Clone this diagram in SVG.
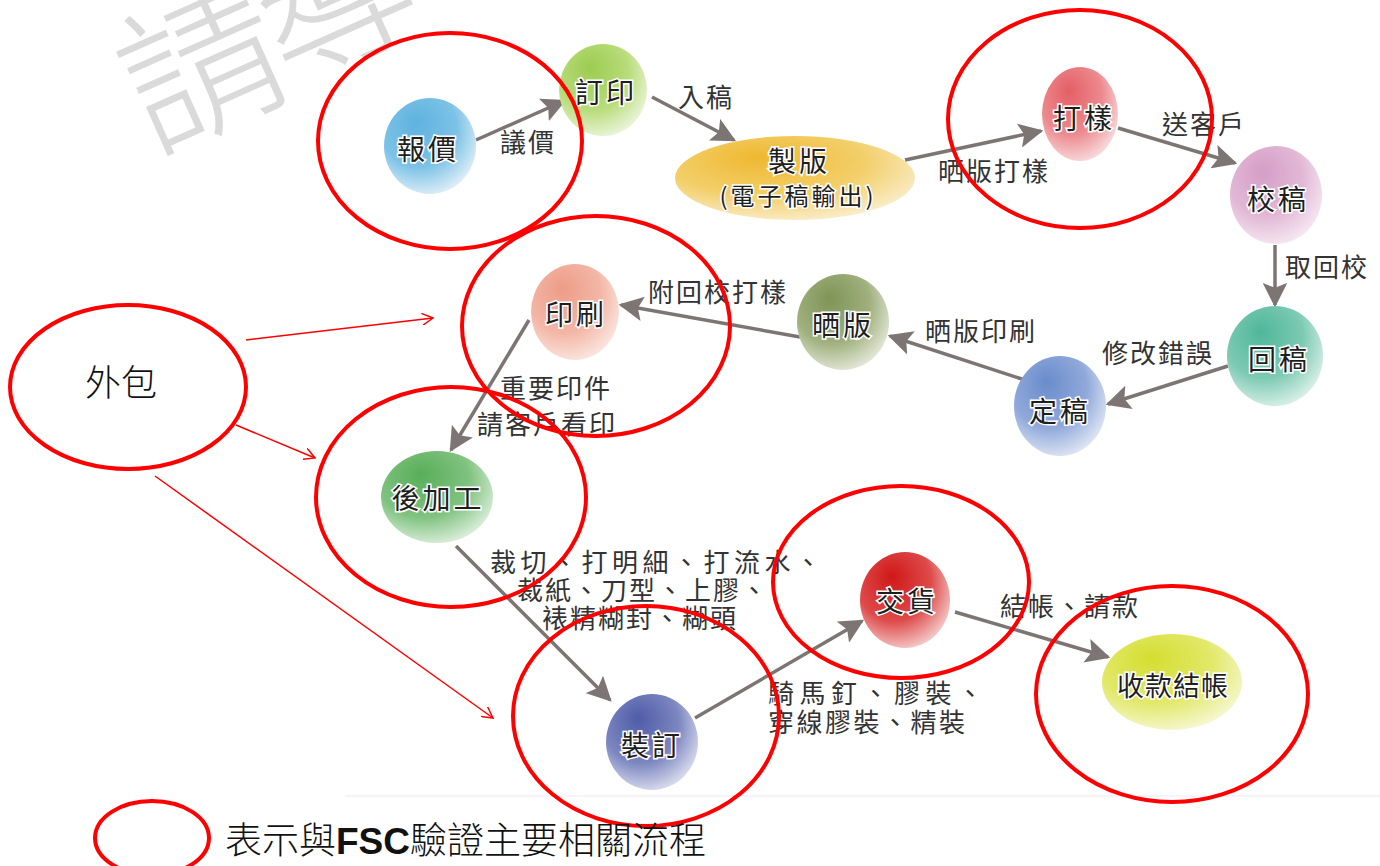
<svg xmlns="http://www.w3.org/2000/svg" width="1380" height="866" viewBox="0 0 1380 866">
<defs>
<style>
.nl{font-family:"Noto Sans CJK TC","Noto Sans CJK SC",sans-serif;font-size:28px;font-weight:400;letter-spacing:3px;fill:#1e1e1e;stroke:#fff;stroke-width:3px;paint-order:stroke;text-anchor:middle;dominant-baseline:central}
.el{font-family:"Noto Sans CJK TC","Noto Sans CJK SC",sans-serif;font-size:26px;fill:#333;letter-spacing:2px}
.cn{stroke:#7d7573;stroke-width:3.5;fill:none;marker-end:url(#ah)}
.red{fill:none;stroke:#ff0000;stroke-width:4}
.rl{stroke:#ff0000;stroke-width:1.5;fill:none;marker-end:url(#ra)}
.wm{font-family:"Noto Sans CJK TC","Noto Sans CJK SC",sans-serif;font-size:160px;font-weight:300;fill:#dadada}
</style>
<marker id="ah" viewBox="0 0 10 10" refX="9" refY="5" markerWidth="7" markerHeight="7" markerUnits="strokeWidth" orient="auto"><path d="M0,0 L10,5 L0,10 L2,5 Z" fill="#7d7573"/></marker>
<marker id="ra" viewBox="0 0 12 12" refX="11" refY="6" markerWidth="12" markerHeight="12" markerUnits="userSpaceOnUse" orient="auto"><path d="M0,0 L11,6 L0,12" fill="none" stroke="#ff0000" stroke-width="1.5"/></marker>
<radialGradient id="gBlue" cx="0.4" cy="0.35" r="0.75" fx="0.35" fy="0.25"><stop offset="0" stop-color="#5fb2e0"/><stop offset="0.55" stop-color="#7cc2e6"/><stop offset="1" stop-color="#f4f8fb"/></radialGradient>
<radialGradient id="gLime" cx="0.4" cy="0.35" r="0.75" fx="0.35" fy="0.25"><stop offset="0" stop-color="#9ccc52"/><stop offset="0.55" stop-color="#b8dc7a"/><stop offset="1" stop-color="#f6faee"/></radialGradient>
<radialGradient id="gOrange" cx="0.4" cy="0.35" r="0.75" fx="0.35" fy="0.25"><stop offset="0" stop-color="#efb830"/><stop offset="0.55" stop-color="#f3cf6a"/><stop offset="1" stop-color="#fbf3de"/></radialGradient>
<radialGradient id="gPinkRed" cx="0.4" cy="0.35" r="0.75" fx="0.35" fy="0.25"><stop offset="0" stop-color="#e45f66"/><stop offset="0.55" stop-color="#ec8a8e"/><stop offset="1" stop-color="#fbecee"/></radialGradient>
<radialGradient id="gPink" cx="0.4" cy="0.35" r="0.75" fx="0.35" fy="0.25"><stop offset="0" stop-color="#d59ec6"/><stop offset="0.55" stop-color="#e2b8d6"/><stop offset="1" stop-color="#faf2f8"/></radialGradient>
<radialGradient id="gTeal" cx="0.4" cy="0.35" r="0.75" fx="0.35" fy="0.25"><stop offset="0" stop-color="#4fb79a"/><stop offset="0.55" stop-color="#7ccab2"/><stop offset="1" stop-color="#eef8f4"/></radialGradient>
<radialGradient id="gSteel" cx="0.4" cy="0.35" r="0.75" fx="0.35" fy="0.25"><stop offset="0" stop-color="#6a8ccc"/><stop offset="0.55" stop-color="#90a9da"/><stop offset="1" stop-color="#f0f3fa"/></radialGradient>
<radialGradient id="gOlive" cx="0.4" cy="0.35" r="0.75" fx="0.35" fy="0.25"><stop offset="0" stop-color="#7f9456"/><stop offset="0.55" stop-color="#a0b07e"/><stop offset="1" stop-color="#f2f4ec"/></radialGradient>
<radialGradient id="gSalmon" cx="0.4" cy="0.35" r="0.75" fx="0.35" fy="0.25"><stop offset="0" stop-color="#ee9c88"/><stop offset="0.55" stop-color="#f3b6a6"/><stop offset="1" stop-color="#fcf0ec"/></radialGradient>
<radialGradient id="gGreen" cx="0.4" cy="0.35" r="0.75" fx="0.35" fy="0.25"><stop offset="0" stop-color="#58ae58"/><stop offset="0.55" stop-color="#80c280"/><stop offset="1" stop-color="#eef7ee"/></radialGradient>
<radialGradient id="gNavy" cx="0.4" cy="0.35" r="0.75" fx="0.35" fy="0.25"><stop offset="0" stop-color="#4f5ca8"/><stop offset="0.55" stop-color="#7c86c0"/><stop offset="1" stop-color="#eeeff8"/></radialGradient>
<radialGradient id="gRed" cx="0.4" cy="0.35" r="0.75" fx="0.35" fy="0.25"><stop offset="0" stop-color="#d01818"/><stop offset="0.55" stop-color="#de4a4a"/><stop offset="1" stop-color="#fae6e6"/></radialGradient>
<radialGradient id="gYellow" cx="0.4" cy="0.35" r="0.75" fx="0.35" fy="0.25"><stop offset="0" stop-color="#d4de30"/><stop offset="0.55" stop-color="#e2e86a"/><stop offset="1" stop-color="#fafbe6"/></radialGradient>
</defs>
<rect width="1380" height="866" fill="#fff"/>

<g id="watermark">
<text class="wm" x="152" y="152" transform="rotate(-24 152 152)">請</text>
<text class="wm" x="285" y="84" transform="rotate(-24 285 84)">導</text>
</g>

<line x1="345" y1="796" x2="1380" y2="796" stroke="#f6eff6" stroke-width="1.5"/>

<g id="connectors">
<line class="cn" x1="476" y1="140" x2="564" y2="101"/>
<line class="cn" x1="652" y1="97" x2="734" y2="140"/>
<line class="cn" x1="905" y1="160" x2="1041" y2="131"/>
<line class="cn" x1="1118" y1="128" x2="1235" y2="163"/>
<line class="cn" x1="1275" y1="245" x2="1275" y2="305"/>
<line class="cn" x1="1228" y1="366" x2="1108" y2="404"/>
<line class="cn" x1="1025" y1="380" x2="890" y2="336"/>
<line class="cn" x1="800" y1="337" x2="621" y2="305"/>
<line class="cn" x1="529" y1="320" x2="451" y2="450"/>
<line class="cn" x1="456" y1="546" x2="610" y2="700"/>
<line class="cn" x1="695" y1="718" x2="862" y2="621"/>
<line class="cn" x1="955" y1="612" x2="1108" y2="657"/>
<line class="rl" x1="246" y1="340" x2="433" y2="318"/>
<line class="rl" x1="236" y1="425" x2="315" y2="458"/>
<line class="rl" x1="155" y1="476" x2="493" y2="718"/>
</g>

<g id="edge-labels">
<text class="el" x="500" y="152">議價</text>
<text class="el" x="678" y="107">入稿</text>
<text class="el" x="938" y="181">晒版打樣</text>
<text class="el" x="1162" y="134">送客戶</text>
<text class="el" x="1285" y="277">取回校</text>
<text class="el" x="648" y="302">附回校打樣</text>
<text class="el" x="925" y="341">晒版印刷</text>
<text class="el" x="1102" y="363">修改錯誤</text>
<text class="el" x="500" y="398">重要印件</text>
<text class="el" x="477" y="434">請客戶看印</text>
<text class="el" x="490" y="572" style="letter-spacing:4.5px">裁切、打明細、打流水、</text>
<text class="el" x="517" y="600">裁紙、刀型、上膠、</text>
<text class="el" x="542" y="628">裱精糊封、糊頭</text>
<text class="el" x="1000" y="616">結帳、請款</text>
<text class="el" x="768" y="703" style="letter-spacing:5.5px">騎馬釘、膠裝、</text>
<text class="el" x="768" y="732" style="letter-spacing:2.5px">穿線膠裝、精裝</text>
</g>

<g id="n-baojia"><ellipse cx="430" cy="146" rx="46" ry="48" fill="url(#gBlue)"/><text class="nl" x="428" y="148">報價</text></g>
<g id="n-dingyin"><ellipse cx="603" cy="90" rx="44" ry="46" fill="url(#gLime)"/><text class="nl" x="606" y="91">訂印</text></g>
<g id="n-zhiban"><ellipse cx="795" cy="178" rx="120" ry="42" fill="url(#gOrange)"/><text class="nl" x="799" y="160">製版</text><text class="nl" x="798" y="194" style="font-size:24px">(電子稿輸出)</text></g>
<g id="n-dayang"><ellipse cx="1080" cy="114" rx="38" ry="47" fill="url(#gPinkRed)"/><text class="nl" x="1084" y="117">打樣</text></g>
<g id="n-jiaogao"><ellipse cx="1276" cy="195" rx="46" ry="49" fill="url(#gPink)"/><text class="nl" x="1278" y="198">校稿</text></g>
<g id="n-huigao"><ellipse cx="1275" cy="356" rx="48" ry="50" fill="url(#gTeal)"/><text class="nl" x="1279" y="358">回稿</text></g>
<g id="n-dinggao"><ellipse cx="1060" cy="406" rx="46" ry="50" fill="url(#gSteel)"/><text class="nl" x="1060" y="410">定稿</text></g>
<g id="n-shaiban"><ellipse cx="843" cy="322" rx="46" ry="48" fill="url(#gOlive)"/><text class="nl" x="843" y="324">晒版</text></g>
<g id="n-yinshua"><ellipse cx="575" cy="312" rx="44" ry="48" fill="url(#gSalmon)"/><text class="nl" x="576" y="313">印刷</text></g>
<g id="n-houjiagong"><ellipse cx="437" cy="497" rx="56" ry="46" fill="url(#gGreen)"/><text class="nl" x="438" y="497">後加工</text></g>
<g id="n-zhuangding"><ellipse cx="652" cy="742" rx="46" ry="48" fill="url(#gNavy)"/><text class="nl" x="652" y="744">裝訂</text></g>
<g id="n-jiaohuo"><ellipse cx="905" cy="600" rx="45" ry="48" fill="url(#gRed)"/><text class="nl" x="907" y="600">交貨</text></g>
<g id="n-shoukuan"><ellipse cx="1172" cy="682" rx="70" ry="48" fill="url(#gYellow)"/><text class="nl" x="1173" y="684" style="font-size:27px;letter-spacing:1px">收款結帳</text></g>

<g id="highlights">
<ellipse class="red" cx="450" cy="141" rx="132" ry="108"/>
<ellipse class="red" cx="1080" cy="119" rx="132" ry="109"/>
<ellipse class="red" cx="596" cy="326" rx="134" ry="110"/>
<ellipse class="red" cx="451" cy="497" rx="135" ry="110"/>
<ellipse class="red" cx="646" cy="716" rx="133" ry="110"/>
<ellipse class="red" cx="901" cy="582" rx="128" ry="96"/>
<ellipse class="red" cx="1172" cy="694" rx="136" ry="108"/>
</g>

<g id="n-waibao">
<ellipse class="red" cx="128" cy="387" rx="118" ry="82"/>
<text x="121" y="380" font-family="'Noto Sans CJK TC',sans-serif" font-size="36" font-weight="300" fill="#111" text-anchor="middle" dominant-baseline="central">外包</text>
</g>

<g id="legend">
<ellipse class="red" cx="152" cy="838" rx="57" ry="37"/>
<text x="225" y="854" font-family="'Liberation Sans','Noto Sans CJK TC',sans-serif" font-size="37" font-weight="300" fill="#111">表示與<tspan font-weight="bold">FSC</tspan>驗證主要相關流程</text>
</g>
</svg>
